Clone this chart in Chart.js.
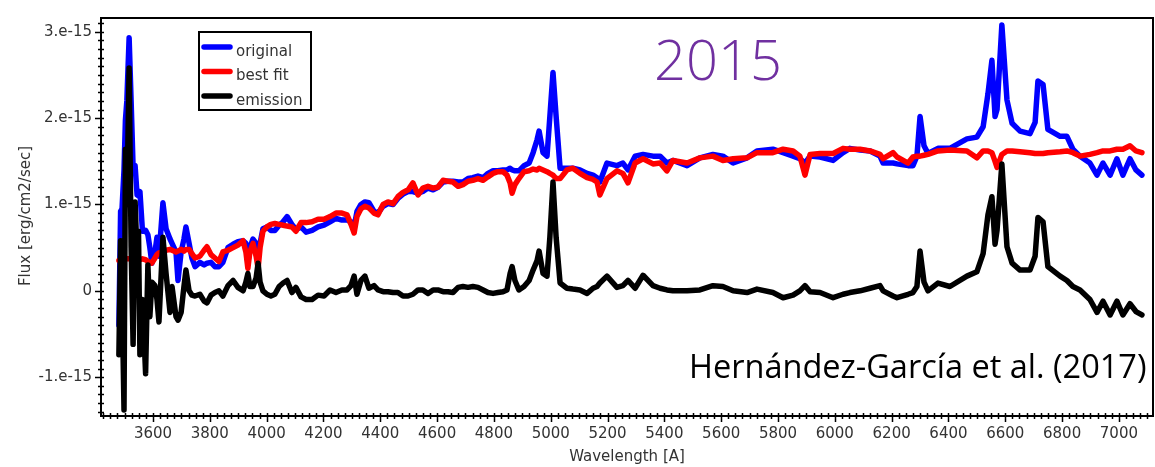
<!DOCTYPE html>
<html>
<head>
<meta charset="utf-8">
<script src="https://cdn.jsdelivr.net/npm/chart.js@4.4.1/dist/chart.umd.min.js"></script>
<style>
  html, body { margin: 0; padding: 0; background: #fff; }
</style>
</head>
<body>
<canvas id="spec" width="1155" height="467"></canvas>
<script>
// wavelength in Angstrom, fluxes in units of 1e-15 erg/cm2/sec
const wavelength = [
  3480, 3486, 3491, 3498, 3503, 3508, 3516, 3523, 3530, 3537, 3544, 3549, 3554, 3563, 3574, 3582,
  3589, 3596, 3607, 3614, 3621, 3635, 3646, 3660, 3667, 3681, 3688, 3699, 3709, 3716, 3727, 3737,
  3748, 3765, 3780, 3790, 3804, 3818, 3832, 3846, 3864, 3882, 3899, 3917, 3927, 3934, 3941, 3952,
  3963, 3970, 3977, 3987, 4001, 4015, 4029, 4044,
  4058, 4072, 4089, 4103, 4121, 4139, 4160, 4181, 4202, 4223, 4244, 4265, 4283, 4297, 4308, 4318,
  4332, 4346, 4360, 4378, 4392, 4410, 4427, 4445, 4462, 4480, 4498, 4515, 4533, 4550, 4568, 4586,
  4603, 4621, 4638, 4656, 4674, 4691, 4709, 4726, 4744, 4762, 4779, 4797, 4814, 4832, 4846, 4857,
  4864, 4874, 4888, 4906, 4924, 4938, 4952, 4959, 4973, 4987, 4997, 5008, 5019, 5033,
  5057, 5078, 5103, 5128, 5149, 5163, 5173, 5198, 5233, 5254, 5272, 5297, 5325, 5360, 5385, 5409,
  5430, 5480, 5525, 5571, 5606, 5642, 5691, 5726, 5782, 5818, 5853, 5877, 5895, 5913, 5948, 5994,
  6029,
  6053, 6089, 6124, 6159, 6170, 6205, 6219, 6258, 6275, 6289, 6300, 6314, 6328, 6363, 6405, 6465,
  6500, 6522, 6539, 6553, 6564, 6571, 6588, 6606, 6624, 6652, 6687, 6705, 6715, 6733, 6750, 6793,
  6817, 6838, 6863, 6898, 6923, 6944, 6969, 6993, 7014, 7039, 7060, 7081
];

const original = [
  -0.40, 0.92, 0.95, 1.40, 1.98, 2.20, 2.93, 2.20, 1.43, 1.45, 1.11, 1.10, 1.15, 0.69, 0.70, 0.65,
  0.50, 0.32, 0.45, 0.62, 0.40, 1.02, 0.72, 0.60, 0.55, 0.45, 0.12, 0.45, 0.60, 0.74, 0.55, 0.38,
  0.28, 0.33, 0.30, 0.32, 0.33, 0.28, 0.28, 0.33, 0.50, 0.54, 0.57, 0.58, 0.55, 0.32, 0.50, 0.60,
  0.55, 0.45, 0.55, 0.72, 0.74, 0.70, 0.70, 0.76,
  0.80, 0.86, 0.77, 0.71, 0.74, 0.68, 0.70, 0.74, 0.76, 0.80, 0.84, 0.82, 0.82, 0.80, 0.74, 0.92,
  1.00, 1.03, 1.02, 0.92, 0.90, 0.98, 1.01, 1.00, 1.07, 1.12, 1.15, 1.15, 1.13, 1.15, 1.19, 1.17,
  1.20, 1.26, 1.27, 1.27, 1.26, 1.26, 1.30, 1.31, 1.33, 1.31, 1.36, 1.39, 1.39, 1.40, 1.40, 1.42,
  1.40, 1.39, 1.39, 1.45, 1.48, 1.60, 1.75, 1.85, 1.60, 1.56, 2.02, 2.53, 2.02, 1.42,
  1.42, 1.42, 1.40, 1.36, 1.34, 1.31, 1.26, 1.48, 1.45, 1.48, 1.40, 1.56, 1.58, 1.56, 1.56, 1.48,
  1.51, 1.45, 1.54, 1.58, 1.56, 1.48, 1.54, 1.62, 1.64, 1.60, 1.56, 1.53, 1.48, 1.56, 1.55, 1.51,
  1.60,
  1.65, 1.63, 1.62, 1.56, 1.48, 1.48, 1.47, 1.45, 1.45, 1.56, 2.02, 1.68, 1.59, 1.65, 1.65, 1.76,
  1.78, 1.90, 2.28, 2.67, 2.02, 2.10, 3.08, 2.21, 1.94, 1.85, 1.82, 1.95, 2.43, 2.39, 1.87, 1.79,
  1.79, 1.64, 1.56, 1.48, 1.34, 1.48, 1.34, 1.53, 1.34, 1.53, 1.40, 1.34
];

const bestFit = [
  0.35, 0.35, 0.36, 0.36, 0.37, 0.37, 0.37, 0.37, 0.37, 0.36, 0.36, 0.36, 0.36, 0.37, 0.36, 0.34,
  0.33, 0.32, 0.38, 0.42, 0.44, 0.45, 0.47, 0.48, 0.47, 0.45, 0.46, 0.48, 0.46, 0.48, 0.48, 0.43,
  0.38, 0.40, 0.47, 0.51, 0.42, 0.38, 0.34, 0.45, 0.47, 0.50, 0.53, 0.58, 0.45, 0.26, 0.45, 0.55,
  0.40, 0.26, 0.50, 0.69, 0.74, 0.77, 0.78, 0.77,
  0.76, 0.75, 0.74, 0.69, 0.79, 0.79, 0.80, 0.83, 0.83, 0.86, 0.90, 0.90, 0.88, 0.77, 0.67, 0.86,
  0.95, 0.98, 0.96, 0.90, 0.88, 1.00, 1.03, 1.01, 1.09, 1.14, 1.17, 1.25, 1.11, 1.19, 1.21, 1.19,
  1.20, 1.28, 1.27, 1.26, 1.21, 1.23, 1.27, 1.28, 1.30, 1.28, 1.32, 1.36, 1.38, 1.38, 1.34, 1.25,
  1.13, 1.23, 1.30, 1.38, 1.39, 1.41, 1.40, 1.42, 1.40, 1.38, 1.36, 1.34, 1.30, 1.30,
  1.40, 1.42, 1.36, 1.31, 1.29, 1.26, 1.11, 1.30, 1.39, 1.36, 1.25, 1.48, 1.53, 1.47, 1.48, 1.39,
  1.51, 1.48, 1.54, 1.56, 1.51, 1.53, 1.54, 1.60, 1.60, 1.64, 1.62, 1.56, 1.34, 1.58, 1.59, 1.59,
  1.65,
  1.64, 1.64, 1.62, 1.58, 1.53, 1.60, 1.55, 1.48, 1.55, 1.56, 1.56, 1.57, 1.58, 1.62, 1.63, 1.62,
  1.54, 1.62, 1.62, 1.60, 1.50, 1.43, 1.58, 1.62, 1.62, 1.61, 1.60, 1.59, 1.59, 1.59, 1.60, 1.61,
  1.62, 1.60, 1.56, 1.58, 1.60, 1.62, 1.62, 1.64, 1.64, 1.68, 1.62, 1.60
];

const emission = [
  -0.74, 0.58, 0.00, -1.38, 1.64, 1.00, 2.58, 0.51, -0.62, 1.03, 0.40, 0.69, -0.74, -0.10, -0.96, 0.30,
  -0.30, 0.10, 0.06, -0.10, -0.36, 0.62, 0.20, -0.25, 0.05, -0.30, -0.34, -0.25, 0.05, 0.24, 0.00, -0.05,
  -0.06, -0.04, -0.12, -0.14, -0.05, -0.02, 0.00, -0.06, 0.06, 0.12, 0.04, 0.00, 0.10, 0.20, 0.05, 0.05,
  0.15, 0.32, 0.10, 0.00, -0.04, -0.06, -0.04, 0.05,
  0.09, 0.12, -0.02, 0.04, -0.07, -0.10, -0.10, -0.05, -0.06, 0.01, -0.02, 0.01, 0.01, 0.06, 0.17, -0.04,
  0.12, 0.17, 0.03, 0.06, 0.01, -0.01, -0.01, -0.02, -0.02, -0.06, -0.06, -0.04, 0.01, 0.01, -0.03, 0.01,
  0.01, -0.01, -0.01, -0.02, 0.04, 0.05, 0.04, 0.05, 0.04, 0.01, -0.02, -0.03, -0.02, -0.01, 0.01, 0.20,
  0.28, 0.12, 0.01, 0.05, 0.12, 0.24, 0.35, 0.46, 0.20, 0.17, 0.62, 1.26, 0.62, 0.09,
  0.03, 0.02, 0.01, -0.03, 0.03, 0.05, 0.09, 0.17, 0.04, 0.06, 0.12, 0.03, 0.18, 0.06, 0.03, 0.01,
  0.00, 0.00, 0.01, 0.06, 0.05, 0.00, -0.02, 0.02, -0.02, -0.08, -0.05, 0.00, 0.06, -0.01, -0.02, -0.08,
  -0.04,
  -0.02, 0.00, 0.03, 0.06, 0.00, -0.06, -0.08, -0.04, -0.02, 0.05, 0.46, 0.10, 0.00, 0.09, 0.05, 0.17,
  0.22, 0.43, 0.88, 1.09, 0.54, 0.70, 1.47, 0.51, 0.32, 0.24, 0.24, 0.40, 0.85, 0.80, 0.28, 0.17,
  0.12, 0.05, 0.01, -0.10, -0.25, -0.12, -0.28, -0.12, -0.28, -0.15, -0.24, -0.28
];

const seriesNames = ["original", "best fit", "emission"];
const seriesColors = ["#0000ff", "#ff0000", "#000000"];

const xTickValues = [3600, 3800, 4000, 4200, 4400, 4600, 4800, 5000, 5200, 5400, 5600, 5800, 6000, 6200, 6400, 6600, 6800, 7000];
const yTickValues = [-1, 0, 1, 2, 3];
const yTickLabels = ["-1.e-15", "0", "1.e-15", "2.e-15", "3.e-15"];

const X_MIN = 3417, X_MAX = 7120;
const Y_MIN = -1.45, Y_MAX = 3.16;

function toPoints(arr) {
  return wavelength.map((w, i) => ({ x: w, y: arr[i] }));
}

const TICK_FONT = { family: "'DejaVu Sans', sans-serif", size: 15 };

// frame, minor ticks, titles, legend and notes on top of the plot
const decorations = {
  id: "decorations",
  afterDatasetsDraw(chart) {
    const ctx = chart.ctx;
    const a = chart.chartArea;
    const xs = chart.scales.x, ys = chart.scales.y;
    ctx.save();

    // frame
    ctx.strokeStyle = "#000";
    ctx.lineWidth = 2;
    ctx.strokeRect(a.left, a.top, a.right - a.left, a.bottom - a.top);

    // ticks on bottom axis
    ctx.lineWidth = 1.5;
    ctx.beginPath();
    for (let v = 3425; v < X_MAX; v += 25) {
      const px = Math.round(xs.getPixelForValue(v)) + 0.5;
      const major = v % 200 === 0;
      ctx.moveTo(px, a.bottom - 3);
      ctx.lineTo(px, a.bottom + (major ? 6 : 3));
    }
    // ticks on left axis
    for (let i = -14; i <= 31; i++) {
      const v = i / 10;
      const py = Math.round(ys.getPixelForValue(v)) + 0.5;
      const major = i % 10 === 0;
      ctx.moveTo(a.left + 3, py);
      ctx.lineTo(a.left - (major ? 6 : 3), py);
    }
    ctx.stroke();

    // axis titles
    ctx.fillStyle = "#333";
    ctx.font = "15px 'DejaVu Sans', sans-serif";
    ctx.textAlign = "center";
    ctx.textBaseline = "middle";
    ctx.fillText("Wavelength [A]", (a.left + a.right) / 2, 457);
    ctx.save();
    ctx.translate(26, 216);
    ctx.rotate(-Math.PI / 2);
    ctx.fillText("Flux [erg/cm2/sec]", 0, 0);
    ctx.restore();

    // legend
    ctx.fillStyle = "#fff";
    ctx.fillRect(199, 32, 112, 78);
    ctx.strokeStyle = "#000";
    ctx.lineWidth = 2;
    ctx.strokeRect(199, 32, 112, 78);
    ctx.lineCap = "round";
    chart.data.datasets.forEach((ds, i) => {
      const y = 47 + i * 24.5;
      ctx.strokeStyle = ds.borderColor;
      ctx.lineWidth = 5.5;
      ctx.beginPath();
      ctx.moveTo(204, y);
      ctx.lineTo(230, y);
      ctx.stroke();
      ctx.fillStyle = "#333";
      ctx.textAlign = "left";
      ctx.fillText(ds.label, 236, y + 5);
    });

    // handwritten year
    ctx.fillStyle = "#7030a0";
    ctx.font = "300 56px 'Open Sans', sans-serif";
    ctx.textAlign = "left";
    ctx.textBaseline = "alphabetic";
    ctx.fillText("2015", 654, 80);

    // citation
    let size = 28;
    ctx.font = size + "px 'Open Sans', sans-serif";
    const w = ctx.measureText("Hernández-García et al. (2017)").width;
    size = size * 458 / w;
    ctx.font = size.toFixed(1) + "px 'Open Sans', sans-serif";
    ctx.fillStyle = "#000";
    ctx.fillText("Hernández-García et al. (2017)", 689, 378);

    ctx.restore();
  }
};

new Chart(document.getElementById("spec"), {
  type: "line",
  data: {
    datasets: [
      { label: seriesNames[0], data: toPoints(original), borderColor: seriesColors[0], order: 3 },
      { label: seriesNames[1], data: toPoints(bestFit), borderColor: seriesColors[1], order: 2 },
      { label: seriesNames[2], data: toPoints(emission), borderColor: seriesColors[2], order: 1 }
    ]
  },
  options: {
    responsive: false,
    animation: false,
    events: [],
    layout: { padding: { top: 9, right: 2, left: 0, bottom: 0 } },
    elements: {
      point: { radius: 0 },
      line: { borderWidth: 5.5, tension: 0, fill: false, borderJoinStyle: "round", borderCapStyle: "round" }
    },
    plugins: { legend: { display: false }, tooltip: { enabled: false } },
    scales: {
      x: {
        type: "linear",
        min: X_MIN,
        max: X_MAX,
        afterBuildTicks: s => { s.ticks = xTickValues.map(v => ({ value: v })); },
        afterFit: s => { s.height = 51; },
        grid: { display: false, drawTicks: false },
        border: { display: false },
        ticks: { font: TICK_FONT, color: "#333", padding: 9, maxRotation: 0, autoSkip: false, callback: v => String(v) }
      },
      y: {
        type: "linear",
        min: Y_MIN,
        max: Y_MAX,
        afterBuildTicks: s => { s.ticks = yTickValues.map(v => ({ value: v })); },
        afterFit: s => { s.width = 101; },
        grid: { display: false, drawTicks: false },
        border: { display: false },
        ticks: { font: TICK_FONT, color: "#333", padding: 9, callback: v => yTickLabels[yTickValues.indexOf(v)] }
      }
    }
  },
  plugins: [decorations]
});
</script>
</body>
</html>
